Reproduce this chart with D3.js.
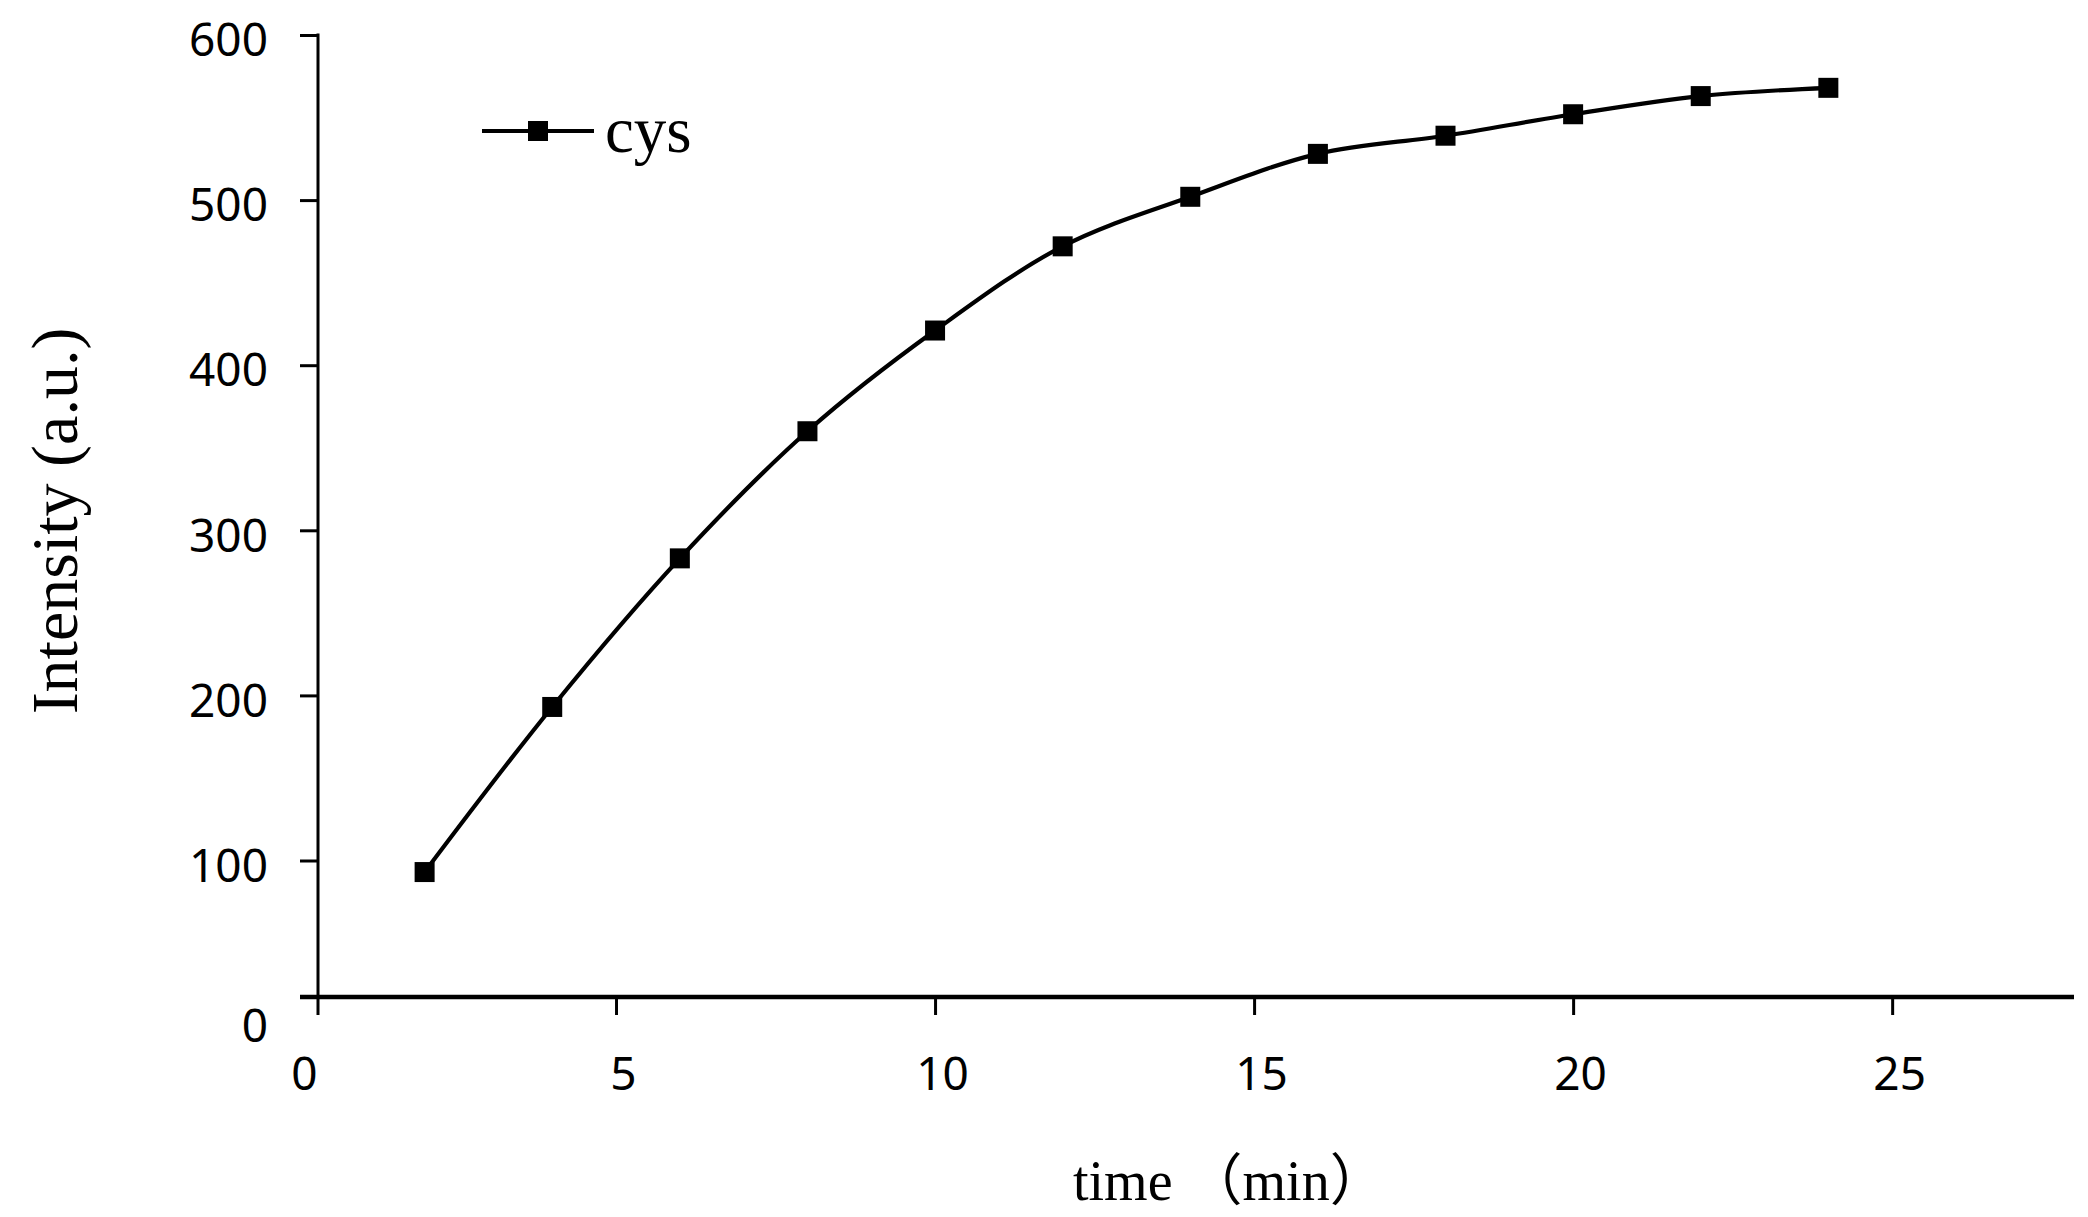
<!DOCTYPE html>
<html>
<head>
<meta charset="utf-8">
<script src="https://cdn.jsdelivr.net/npm/d3@7"></script>
<style>
  html, body { margin: 0; padding: 0; background: #ffffff; }
  svg { display: block; }
</style>
</head>
<body>
<svg id="chart" width="2088" height="1217"></svg>
<script>
// ---------------- data ----------------
const times = [2, 4, 6, 8, 10, 12, 14, 16, 18, 20, 22, 24];
const intensity = [93, 193, 283, 360, 421, 472, 502, 528, 539, 552, 563, 568];
const xTicks = [0, 5, 10, 15, 20, 25];
const yTicks = [0, 100, 200, 300, 400, 500, 600];
const seriesName = "cys";
const xTitle = "time （min）";
const yTitle = "Intensity (a.u.)";

// ---------------- layout ----------------
const svg = d3.select("#chart");
const x = d3.scaleLinear().domain([0, 27.85]).range([297, 2074]);
const y = d3.scaleLinear().domain([0, 600]).range([1025.6, 35]);
const yAxisX = 318;     // where the vertical axis sits
const xAxisY = 997;     // where the horizontal axis sits
const tickLen = 18;
const tickFont = "'Noto Sans', 'Open Sans', sans-serif";
const serifFont = "'Liberation Serif', 'Noto Sans CJK SC', serif";

// ---------------- x axis ----------------
const xAxis = d3.axisBottom(x)
  .tickValues(xTicks)
  .tickSize(tickLen)
  .tickSizeOuter(0)
  .tickPadding(42)
  .tickFormat(d3.format("d"));

const gx = svg.append("g")
  .attr("transform", `translate(0,${xAxisY})`)
  .call(xAxis);
gx.select(".domain")
  .attr("d", `M300,0H${x(27.85)}`)
  .attr("stroke", "#000").attr("stroke-width", 4.5);
gx.selectAll(".tick line").attr("stroke", "#000").attr("stroke-width", 3);
gx.selectAll(".tick").filter(d => d === 0).select("line").remove();
gx.selectAll(".tick text")
  .attr("fill", "#000")
  .attr("dx", 7)
  .style("font-family", tickFont)
  .style("font-size", "46px");

// ---------------- y axis ----------------
const yAxis = d3.axisLeft(y)
  .tickValues(yTicks)
  .tickSize(tickLen)
  .tickSizeOuter(0)
  .tickPadding(32)
  .tickFormat(d3.format("d"));

const gy = svg.append("g")
  .attr("transform", `translate(${yAxisX},0)`)
  .call(yAxis);
gy.select(".domain")
  .attr("d", `M0,${y(600) - 1.5}V${xAxisY + tickLen}`)
  .attr("stroke", "#000").attr("stroke-width", 3);
gy.selectAll(".tick line").attr("stroke", "#000").attr("stroke-width", 3);
gy.selectAll(".tick").filter(d => d === 0).select("line").remove();
gy.selectAll(".tick text")
  .attr("fill", "#000")
  .attr("dy", "0.45em")
  .style("font-family", tickFont)
  .style("font-size", "46px");
gy.selectAll(".tick").filter(d => d === 0).select("text").attr("dy", "0.35em");

// ---------------- axis titles ----------------
svg.append("text")
  .attr("x", 1073).attr("y", 1200)
  .attr("text-anchor", "start")
  .style("font-family", serifFont)
  .style("font-size", "56px")
  .attr("fill", "#000")
  .text(xTitle);

svg.append("text")
  .attr("transform", "translate(77,521) rotate(-90)")
  .attr("text-anchor", "middle")
  .style("font-family", serifFont)
  .style("font-size", "66px")
  .attr("fill", "#000")
  .text(yTitle);

// ---------------- series ----------------
const pts = times.map((t, i) => [t, intensity[i]]);
const line = d3.line()
  .x(d => x(d[0]))
  .y(d => y(d[1]))
  .curve(d3.curveCatmullRom.alpha(0.5));

svg.append("path")
  .datum(pts)
  .attr("d", line)
  .attr("fill", "none")
  .attr("stroke", "#000")
  .attr("stroke-width", 4.2);

const mSize = 20;
svg.append("g").selectAll("rect")
  .data(pts)
  .join("rect")
  .attr("x", d => x(d[0]) - mSize / 2)
  .attr("y", d => y(d[1]) - mSize / 2)
  .attr("width", mSize)
  .attr("height", mSize)
  .attr("fill", "#000");

// ---------------- legend ----------------
const lg = svg.append("g").attr("transform", "translate(482,131)");
lg.append("line")
  .attr("x1", 0).attr("x2", 112).attr("y1", 0).attr("y2", 0)
  .attr("stroke", "#000").attr("stroke-width", 4.2);
lg.append("rect")
  .attr("x", 56 - mSize / 2).attr("y", -mSize / 2)
  .attr("width", mSize).attr("height", mSize)
  .attr("fill", "#000");
lg.append("text")
  .attr("x", 123).attr("y", 21)
  .style("font-family", serifFont)
  .style("font-size", "65px")
  .attr("fill", "#000")
  .text(seriesName);
</script>
</body>
</html>
